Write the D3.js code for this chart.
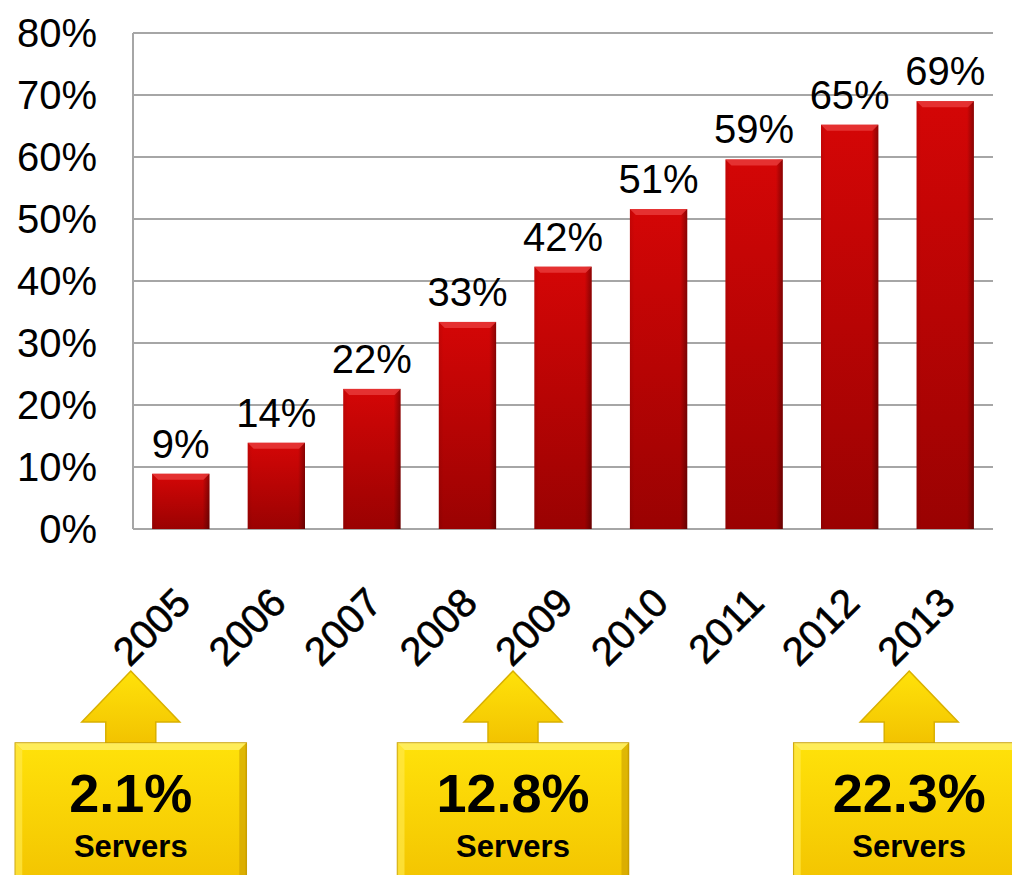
<!DOCTYPE html>
<html>
<head>
<meta charset="utf-8">
<script src="https://cdn.jsdelivr.net/npm/d3@7"></script>
<style>
  body { margin: 0; background: #fff; }
  svg { display: block; font-family: "Liberation Sans", Arial, sans-serif; }
</style>
</head>
<body>
<svg id="chart" width="1012" height="875"></svg>
<script>
// chart data
var years = ["2005", "2006", "2007", "2008", "2009", "2010", "2011", "2012", "2013"];
var values = [8.9, 13.9, 22.6, 33.4, 42.3, 51.6, 59.6, 65.2, 69.0];
var valueLabels = ["9%", "14%", "22%", "33%", "42%", "51%", "59%", "65%", "69%"];
var yTicks = [0, 10, 20, 30, 40, 50, 60, 70, 80];

// callouts under the axis
var calloutYears = ["2005", "2009", "2013"];
var calloutValues = ["2.1%", "12.8%", "22.3%"];
var calloutLabel = "Servers";

var svg = d3.select("#chart");
var defs = svg.append("defs");

var plotLeft = 133, plotRight = 993, plotTop = 33, plotBottom = 529;

var x = d3.scaleBand().domain(years).range([plotLeft, plotRight]).paddingInner(0.4).paddingOuter(0.2);
var y = d3.scaleLinear().domain([0, 80]).range([plotBottom, plotTop]);

// gradients
var barGrad = defs.append("linearGradient").attr("id", "barGrad")
    .attr("x1", 0).attr("y1", 0).attr("x2", 0).attr("y2", 1);
barGrad.append("stop").attr("offset", "0%").attr("stop-color", "#d40606");
barGrad.append("stop").attr("offset", "100%").attr("stop-color", "#9a0202");

var sideGrad = defs.append("linearGradient").attr("id", "sideGrad")
    .attr("x1", 0).attr("y1", 0).attr("x2", 1).attr("y2", 0);
sideGrad.append("stop").attr("offset", "0%").attr("stop-color", "#000").attr("stop-opacity", 0.08);
sideGrad.append("stop").attr("offset", "8%").attr("stop-color", "#000").attr("stop-opacity", 0);
sideGrad.append("stop").attr("offset", "88%").attr("stop-color", "#000").attr("stop-opacity", 0);
sideGrad.append("stop").attr("offset", "100%").attr("stop-color", "#000").attr("stop-opacity", 0.35);

var boxGrad = defs.append("linearGradient").attr("id", "boxGrad")
    .attr("x1", 0).attr("y1", 0).attr("x2", 0).attr("y2", 1);
boxGrad.append("stop").attr("offset", "0%").attr("stop-color", "#ffe20a");
boxGrad.append("stop").attr("offset", "100%").attr("stop-color", "#f2c200");

// gridlines
svg.append("g")
  .selectAll("line")
  .data(yTicks)
  .enter().append("line")
    .attr("x1", plotLeft)
    .attr("x2", plotRight)
    .attr("y1", d => y(d))
    .attr("y2", d => y(d))
    .attr("stroke", "#a6a6a6")
    .attr("stroke-width", 2);

svg.append("line")
    .attr("x1", plotLeft).attr("x2", plotLeft)
    .attr("y1", y(80)).attr("y2", y(0))
    .attr("stroke", "#a6a6a6")
    .attr("stroke-width", 2);

// y tick labels
svg.append("g")
  .selectAll("text")
  .data(yTicks)
  .enter().append("text")
    .attr("x", 97)
    .attr("y", d => y(d))
    .attr("dy", "0.36em")
    .attr("text-anchor", "end")
    .attr("font-size", 40)
    .attr("fill", "#000")
    .text(d => d + "%");

// bars
var bars = svg.append("g")
  .selectAll("g")
  .data(values)
  .enter().append("g");

bars.append("rect")
    .attr("x", (d, i) => x(years[i]))
    .attr("y", d => y(d))
    .attr("width", x.bandwidth())
    .attr("height", d => y(0) - y(d))
    .attr("fill", "url(#barGrad)");

bars.append("rect")
    .attr("x", (d, i) => x(years[i]))
    .attr("y", d => y(d))
    .attr("width", x.bandwidth())
    .attr("height", d => y(0) - y(d))
    .attr("fill", "url(#sideGrad)");

// top bevel
bars.append("path")
    .attr("d", function(d, i) {
        var x0 = x(years[i]), x1 = x0 + x.bandwidth(), t = y(d), b = 6;
        return "M" + x0 + "," + t + "L" + x1 + "," + t + "L" + (x1 - b) + "," + (t + b) +
               "L" + (x0 + b) + "," + (t + b) + "Z";
    })
    .attr("fill", "#e83a3a")
    .attr("opacity", 0.85);

// value labels
bars.append("text")
    .attr("x", (d, i) => x(years[i]) + x.bandwidth() / 2)
    .attr("y", d => y(d) - 16)
    .attr("text-anchor", "middle")
    .attr("font-size", 40)
    .attr("fill", "#000")
    .text((d, i) => valueLabels[i]);

// x labels, rotated
svg.append("g")
  .selectAll("text")
  .data(years)
  .enter().append("text")
    .attr("transform", d => "translate(" + (x(d) + x.bandwidth() / 2 + 12) + ",605) rotate(-45)")
    .attr("text-anchor", "end")
    .attr("font-size", 40)
    .attr("fill", "#000")
    .attr("stroke", "#000")
    .attr("stroke-width", 0.6)
    .text(d => d);

// callouts
var boxW = 231, boxTop = 743, boxH = 150;
var callouts = svg.append("g")
  .selectAll("g")
  .data(calloutYears)
  .enter().append("g")
    .attr("transform", function(d) {
        var cx = x(d) + x.bandwidth() / 2 - 50;
        if (d === "2013") cx += 14;
        return "translate(" + cx + ",0)";
    });

callouts.append("path")
    .attr("d", "M0,671L49,722L25,722L25," + (boxTop + 2) + "L-25," + (boxTop + 2) + "L-25,722L-49,722Z")
    .attr("fill", "url(#boxGrad)")
    .attr("stroke", "#d9b000")
    .attr("stroke-width", 1.5);

callouts.append("rect")
    .attr("x", -boxW / 2)
    .attr("y", boxTop)
    .attr("width", boxW)
    .attr("height", boxH)
    .attr("fill", "url(#boxGrad)")
    .attr("stroke", "#c9a000")
    .attr("stroke-width", 1.5);

// box bevel highlights
callouts.append("path")
    .attr("d", "M" + (-boxW / 2) + "," + boxTop + "L" + (boxW / 2) + "," + boxTop +
               "L" + (boxW / 2 - 7) + "," + (boxTop + 7) + "L" + (-boxW / 2 + 7) + "," + (boxTop + 7) + "Z")
    .attr("fill", "#fff27a")
    .attr("opacity", 0.7);

callouts.append("path")
    .attr("d", "M" + (-boxW / 2) + "," + boxTop + "L" + (-boxW / 2 + 7) + "," + (boxTop + 7) +
               "L" + (-boxW / 2 + 7) + ",875L" + (-boxW / 2) + ",875Z")
    .attr("fill", "#ffe84a")
    .attr("opacity", 0.7);

callouts.append("path")
    .attr("d", "M" + (boxW / 2) + "," + boxTop + "L" + (boxW / 2 - 7) + "," + (boxTop + 7) +
               "L" + (boxW / 2 - 7) + ",875L" + (boxW / 2) + ",875Z")
    .attr("fill", "#c99d00")
    .attr("opacity", 0.6);

callouts.append("text")
    .attr("x", 0)
    .attr("y", 812)
    .attr("text-anchor", "middle")
    .attr("font-size", 54)
    .attr("font-weight", "bold")
    .attr("fill", "#000")
    .text((d, i) => calloutValues[i]);

callouts.append("text")
    .attr("x", 0)
    .attr("y", 857)
    .attr("text-anchor", "middle")
    .attr("font-size", 31)
    .attr("font-weight", "bold")
    .attr("fill", "#000")
    .text(calloutLabel);
</script>
</body>
</html>
